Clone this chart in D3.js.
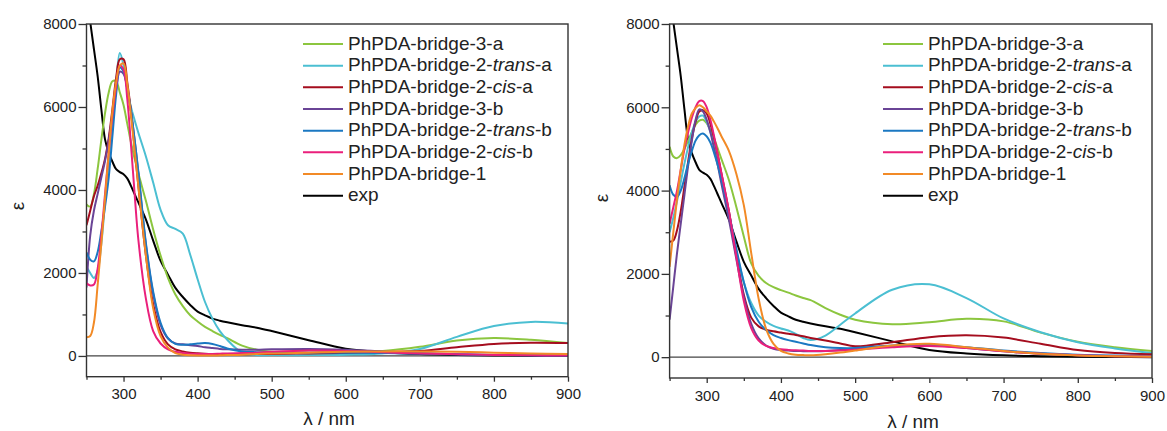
<!DOCTYPE html>
<html><head><meta charset="utf-8">
<script src="https://cdn.jsdelivr.net/npm/d3@7"></script>
<style>
body{margin:0;background:#fff;}
text{font-family:"Liberation Sans",Arial,sans-serif;fill:#222;}
</style>
</head><body>
<svg id="chart" width="1167" height="431"></svg>
<script>
// ---- data ----
const wavelengths = [250,255,260,265,270,275,280,285,290,295,300,305,310,315,320,330,340,350,360,370,380,390,400,410,420,430,440,460,480,500,550,600,650,700,750,800,850,900];

const seriesNames = ["PhPDA-bridge-3-a","PhPDA-bridge-2-trans-a","PhPDA-bridge-2-cis-a","PhPDA-bridge-3-b","PhPDA-bridge-2-trans-b","PhPDA-bridge-2-cis-b","PhPDA-bridge-1","exp"];
const seriesColors = ["#8cc63f","#4bbfd2","#a50d1e","#6a4496","#1b78c2","#ea1f7b","#f28a26","#000000"];

const expSpectrum = [8700,8050,7400,6750,5950,5220,4900,4680,4500,4430,4380,4280,4100,3900,3700, 3300,2780,2290,1960,1640,1420,1230,1070,980,900,850,810, 740,680,600,380,175,90,45,25,12,5,0];

// left panel (a)
const leftBridge3a = [3650,3600,3900,4500,5200,5850,6350,6620,6620,6350,6050,5600,5150,4750,4400, 3750,3050,2420,1880,1480,1200,980,830,700,600,510,430, 250,150,100,80,90,120,220,370,430,390,310];
const leftBridge2transA = [2150,2000,1880,2050,2700,3700,4700,5600,6600,7300,7000,6450,6000,5680,5380, 4820,4180,3520,3150,3060,2950,2440,1850,1300,900,600,390, 80,25,20,20,30,60,170,460,720,820,780];
const leftBridge2cisA = [3150,3500,3850,4100,4400,4750,5250,5950,6700,7150,7150,6600,5900,5000,4100, 2450,1250,580,280,160,110,80,65,55,50,50,50, 50,50,50,60,70,90,120,210,290,320,310];
const leftBridge3b = [1650,2900,3500,3900,4300,4700,5200,5800,6400,6850,6800,6450,5900,5200,4400, 2700,1500,750,420,300,280,260,240,210,190,170,160, 150,150,160,170,150,110,70,40,25,15,10];
const leftBridge2transB = [2500,2320,2280,2500,3000,3600,4300,5300,6300,6950,6850,6450,5900,5200,4450, 2750,1550,800,430,290,270,280,300,310,290,240,180, 110,90,80,80,80,70,55,40,25,15,10];
const leftBridge2cisB = [1750,1700,1720,2100,2900,3900,4900,5800,6500,7000,6900,6200,5100,3900,2800, 1400,600,300,160,100,70,55,50,50,50,55,60, 70,80,100,130,120,90,60,40,25,15,10];
const leftBridge1 = [450,480,800,1700,2700,3800,4900,5900,6600,7000,7050,6550,5800,4950,4100, 2450,1150,480,200,70,30,15,10,10,10,15,20, 30,50,60,80,100,110,110,100,80,60,50];

// right panel (b)
const rightBridge3a = [5050,4820,4780,4850,5000,5200,5400,5580,5680,5700,5620,5450,5250,5000,4750, 4250,3600,2900,2250,1950,1780,1680,1610,1550,1480,1420,1370, 1180,1020,900,790,840,920,860,590,370,240,150];
const rightBridge2transA = [3000,3350,3750,4200,4650,5050,5400,5650,5780,5800,5650,5400,5100,4700,4300, 3450,2550,1800,1300,1000,850,750,690,640,560,460,410, 520,780,1050,1620,1750,1420,930,600,360,210,100];
const rightBridge2cisA = [2770,2800,3050,3500,4100,4700,5250,5650,5900,5930,5850,5600,5250,4850,4400, 3500,2450,1500,950,740,660,620,590,560,535,500,460, 400,330,260,360,480,525,470,320,170,100,70];
const rightBridge3b = [900,1700,2500,3200,3900,4600,5200,5700,5950,5900,5700,5400,5000,4600,4150, 3300,2350,1450,800,450,280,200,170,160,150,145,140, 150,170,200,270,290,220,140,80,45,25,15];
const rightBridge2transB = [4130,3900,3850,4000,4300,4650,4950,5200,5330,5370,5300,5150,4900,4600,4250, 3450,2600,1800,1200,850,650,530,460,410,370,330,290, 240,220,220,280,300,240,160,100,60,40,30];
const rightBridge2cisB = [3200,3600,4000,4500,5000,5400,5750,6000,6150,6150,6000,5700,5300,4850,4400, 3500,2400,1350,700,400,270,220,190,175,165,158,150, 150,160,180,240,270,220,140,80,45,25,15];
const rightBridge1 = [2170,3000,3800,4500,5100,5550,5850,5980,6050,6000,5900,5800,5650,5480,5300, 4950,4400,3650,2500,1400,680,320,150,90,60,50,45, 70,110,160,280,320,240,150,80,40,20,10];

const xMajorTicks = [300,400,500,600,700,800,900];
const xMinorTicks = [250,350,450,550,650,750,850];
const yMajorTicks = [0,2000,4000,6000,8000];
const yMinorTicks = [1000,3000,5000,7000];
const xTitle = "λ / nm";
const yTitle = "ε";

// ---- drawing ----
const svg = d3.select("#chart");
const panels = [
  {x0:86.5, x1:568, yT:24, yB:376.7, legX:303, titleX:329, titleY:425, epsX:24, epsY:206,
   data:[leftBridge3a,leftBridge2transA,leftBridge2cisA,leftBridge3b,leftBridge2transB,leftBridge2cisB,leftBridge1,expSpectrum]},
  {x0:669.6, x1:1152, yT:24, yB:378, legX:883, titleX:913, titleY:428, epsX:608, epsY:198,
   data:[rightBridge3a,rightBridge2transA,rightBridge2cisA,rightBridge3b,rightBridge2transB,rightBridge2cisB,rightBridge1,expSpectrum]}
];

panels.forEach((p, pi) => {
  const x = d3.scaleLinear().domain([250,900]).range([p.x0,p.x1]);
  const y = d3.scaleLinear().domain([-500,8000]).range([p.yB,p.yT]);
  const g = svg.append("g");

  const clipId = "clip"+pi;
  svg.append("defs").append("clipPath").attr("id",clipId)
    .append("rect").attr("x",p.x0).attr("y",p.yT).attr("width",p.x1-p.x0).attr("height",p.yB-p.yT);

  // zero line
  g.append("line").attr("x1",p.x0).attr("x2",p.x1).attr("y1",y(0)).attr("y2",y(0))
    .attr("stroke","#444").attr("stroke-width",1.2);

  // series
  const line = d3.line().x(d=>x(d[0])).y(d=>y(d[1])).curve(d3.curveCatmullRom.alpha(0.5));
  const lg = g.append("g").attr("clip-path",`url(#${clipId})`);
  const order = [7,0,1,2,3,4,5,6];
  order.forEach(i => {
    const pts = wavelengths.map((w,k)=>[w,p.data[i][k]]);
    lg.append("path").datum(pts).attr("d",line).attr("fill","none")
      .attr("stroke",seriesColors[i]).attr("stroke-width",2).attr("stroke-linejoin","round");
  });

  // frame
  g.append("rect").attr("x",p.x0).attr("y",p.yT).attr("width",p.x1-p.x0).attr("height",p.yB-p.yT)
    .attr("fill","none").attr("stroke","#333").attr("stroke-width",1.4);

  // y axis
  const ya = g.append("g").attr("transform",`translate(${p.x0},0)`)
    .call(d3.axisLeft(y).tickValues(yMajorTicks).tickSize(8).tickPadding(2).tickFormat(d3.format("d")));
  const yb = g.append("g").attr("transform",`translate(${p.x0},0)`)
    .call(d3.axisLeft(y).tickValues(yMinorTicks).tickSize(4).tickFormat(""));
  // x axis
  const xa = g.append("g").attr("transform",`translate(0,${p.yB})`)
    .call(d3.axisBottom(x).tickValues(xMajorTicks).tickSize(5).tickPadding(7).tickFormat(d3.format("d")));
  const xb = g.append("g").attr("transform",`translate(0,${p.yB})`)
    .call(d3.axisBottom(x).tickValues(xMinorTicks).tickSize(3).tickFormat(""));
  [ya,yb,xa,xb].forEach(a=>{
    a.select(".domain").remove();
    a.selectAll("line").attr("stroke","#333").attr("stroke-width",1.3);
    a.selectAll("text").attr("font-size",15).attr("font-family","Liberation Sans, Arial, sans-serif").attr("fill","#222");
  });

  // titles
  g.append("text").attr("x",p.titleX).attr("y",p.titleY).attr("text-anchor","middle")
    .attr("font-size",19).text(xTitle);
  g.append("text").attr("transform",`translate(${p.epsX},${p.epsY}) rotate(-90)`).attr("text-anchor","middle")
    .attr("font-size",19).text(yTitle);

  // legend
  seriesNames.forEach((name,i)=>{
    const cy = 44 + i*21.67;
    g.append("line").attr("x1",p.legX).attr("x2",p.legX+40).attr("y1",cy).attr("y2",cy)
      .attr("stroke",seriesColors[i]).attr("stroke-width",2);
    const t = g.append("text").attr("x",p.legX+45).attr("y",cy+5.5).attr("font-size",19);
    const m = name.match(/^(.*-)(trans|cis)(-.*)$/);
    if (m) {
      t.append("tspan").text(m[1]);
      t.append("tspan").attr("font-style","italic").text(m[2]);
      t.append("tspan").text(m[3]);
    } else t.text(name);
  });
});
</script>
</body></html>
